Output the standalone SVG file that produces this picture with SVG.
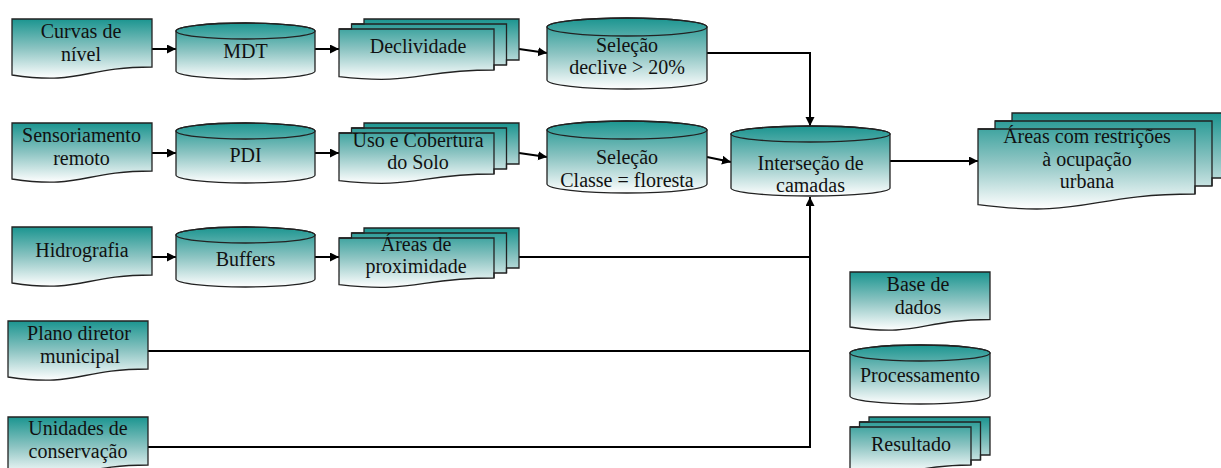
<svg xmlns="http://www.w3.org/2000/svg" width="1221" height="468" viewBox="0 0 1221 468">
<defs>
<linearGradient id="g" x1="0" y1="0" x2="0" y2="1">
<stop offset="0" stop-color="#1b9590"/>
<stop offset="0.5" stop-color="#8cc4c2"/>
<stop offset="1" stop-color="#ffffff"/>
</linearGradient>
<marker id="ar" markerUnits="userSpaceOnUse" markerWidth="10" markerHeight="10" refX="9" refY="4.5" orient="auto">
<path d="M0,0 L9,4.5 L0,9 Z" fill="#000"/>
</marker>
</defs>
<style>
.s{fill:url(#g);stroke:#222;stroke-width:1.3}
.l{fill:none;stroke:#222;stroke-width:1.3}
.c{fill:none;stroke:#000;stroke-width:2}
.a{marker-end:url(#ar)}
text{font-family:"Liberation Serif","Times New Roman",serif;font-size:20px;fill:#111;text-anchor:middle}
</style>
<rect width="1221" height="468" fill="#fff"/>

<g id="connectors">
<line class="c a" x1="152" y1="49" x2="176" y2="49"/>
<line class="c a" x1="315" y1="49" x2="339" y2="49"/>
<line class="c a" x1="519" y1="49" x2="547" y2="53"/>
<polyline class="c a" points="707,53 810,53 810,126"/>
<line class="c a" x1="152" y1="153" x2="176" y2="153"/>
<line class="c a" x1="315" y1="153" x2="339" y2="153"/>
<line class="c a" x1="519" y1="153" x2="547" y2="157"/>
<line class="c a" x1="707" y1="157" x2="731" y2="162"/>
<line class="c a" x1="890" y1="161" x2="978" y2="161"/>
<line class="c a" x1="152" y1="257" x2="176" y2="257"/>
<line class="c a" x1="315" y1="257" x2="339" y2="257"/>
<line class="c" x1="519" y1="257" x2="810" y2="257"/>
<line class="c" x1="148" y1="351" x2="810" y2="351"/>
<polyline class="c a" points="148,447 810,447 810,197"/>
</g>

<g id="curvas">
<path class="s" d="M12,19 H152 V67 C82,67 82,85.5 12,75 Z"/>
<text x="81" y="38.25">Curvas de</text>
<text x="81" y="60.75">nível</text>
</g>

<g id="mdt">
<path class="s" d="M176,31 V71 A69.5,8 0 0 0 315,71 V31 A69.5,8 0 0 0 176,31 Z"/>
<ellipse class="l" cx="245.5" cy="31" rx="69.5" ry="8"/>
<text x="245.5" y="58">MDT</text>
</g>

<g id="declividade">
<path class="s" d="M339,29 H351.5 V24 H364 V19 H519 V60 H506.5 V65 H494 V70 C416.5,70 416.5,85.5 339,76.6 Z"/>
<path class="l" d="M339,29 H494 V70 M351.5,24 H506.5 V65"/>
<text x="418" y="53">Declividade</text>
</g>

<g id="selecao1">
<path class="s" d="M547,27 V80 A80,9 0 0 0 707,80 V27 A80,9 0 0 0 547,27 Z"/>
<ellipse class="l" cx="627" cy="27" rx="80" ry="9"/>
<text x="627" y="51.75">Seleção</text>
<text x="627" y="74.25">declive &gt; 20%</text>
</g>

<g id="sensoriamento">
<path class="s" d="M12,123 H152 V171 C82,171 82,189.5 12,179 Z"/>
<text x="81.5" y="142.25">Sensoriamento</text>
<text x="81.5" y="164.75">remoto</text>
</g>

<g id="pdi">
<path class="s" d="M176,131 V175 A69.5,8 0 0 0 315,175 V131 A69.5,8 0 0 0 176,131 Z"/>
<ellipse class="l" cx="245.5" cy="131" rx="69.5" ry="8"/>
<text x="245.5" y="162">PDI</text>
</g>

<g id="uso">
<path class="s" d="M339,133 H351.5 V128 H364 V123 H519 V164 H506.5 V169 H494 V174 C416.5,174 416.5,189.5 339,180.6 Z"/>
<path class="l" d="M339,133 H494 V174 M351.5,128 H506.5 V169"/>
<text x="418" y="146.75">Uso e Cobertura</text>
<text x="418" y="169.25">do Solo</text>
</g>

<g id="selecao2">
<path class="s" d="M547,130 V184 A80,9 0 0 0 707,184 V130 A80,9 0 0 0 547,130 Z"/>
<ellipse class="l" cx="627" cy="130" rx="80" ry="9"/>
<text x="627" y="164.25">Seleção</text>
<text x="627" y="186.75">Classe = floresta</text>
</g>

<g id="intersecao">
<path class="s" d="M731,134 V188 A79.5,8 0 0 0 890,188 V134 A79.5,8 0 0 0 731,134 Z"/>
<ellipse class="l" cx="810.5" cy="134" rx="79.5" ry="8"/>
<text x="810.5" y="169.75">Interseção de</text>
<text x="810.5" y="192.25">camadas</text>
</g>

<g id="areas-restricoes">
<path class="s" d="M978,129 H995 V121 H1012 V113 H1229 V178 H1212 V186 H1195 V194 C1086.5,194 1086.5,218.7 978,204.7 Z"/>
<path class="l" d="M978,129 H1195 V194 M995,121 H1212 V186"/>
<text x="1087" y="143">Áreas com restrições</text>
<text x="1087" y="165.5">à ocupação</text>
<text x="1087" y="188">urbana</text>
</g>

<g id="hidrografia">
<path class="s" d="M12,227 H152 V275 C82,275 82,293.5 12,283 Z"/>
<text x="82" y="257">Hidrografia</text>
</g>

<g id="buffers">
<path class="s" d="M176,235 V279 A69.5,8 0 0 0 315,279 V235 A69.5,8 0 0 0 176,235 Z"/>
<ellipse class="l" cx="245.5" cy="235" rx="69.5" ry="8"/>
<text x="245.5" y="266">Buffers</text>
</g>

<g id="areas-proximidade">
<path class="s" d="M339,238 H351.5 V233 H364 V228 H519 V268 H506.5 V273 H494 V278 C416.5,278 416.5,293.3 339,284.7 Z"/>
<path class="l" d="M339,238 H494 V278 M351.5,233 H506.5 V273"/>
<text x="416" y="250.75">Áreas de</text>
<text x="416" y="273.25">proximidade</text>
</g>

<g id="plano">
<path class="s" d="M8,321 H148 V369 C78,369 78,387.5 8,377 Z"/>
<text x="79" y="340.25">Plano diretor</text>
<text x="80" y="362.75">municipal</text>
</g>

<g id="unidades">
<path class="s" d="M8,417 H148 V465 C78,465 78,483.5 8,473 Z"/>
<text x="78" y="435.25">Unidades de</text>
<text x="78" y="457.75">conservação</text>
</g>

<g id="legenda-base">
<path class="s" d="M850,272 H990 V319.5 C920,319.5 920,337.3 850,327 Z"/>
<text x="918" y="291.25">Base de</text>
<text x="918" y="313.75">dados</text>
</g>

<g id="legenda-processamento">
<path class="s" d="M850,353 V396 A70,8 0 0 0 990,396 V353 A70,8 0 0 0 850,353 Z"/>
<ellipse class="l" cx="920" cy="353" rx="70" ry="8"/>
<text x="920" y="382">Processamento</text>
</g>

<g id="legenda-resultado">
<path class="s" d="M850,427 H859.5 V422 H869 V417 H990 V455 H980.5 V460 H971 V465 C910.5,465 910.5,479 850,471 Z"/>
<path class="l" d="M850,427 H971 V465 M859.5,422 H980.5 V460"/>
<text x="911" y="451">Resultado</text>
</g>
</svg>
